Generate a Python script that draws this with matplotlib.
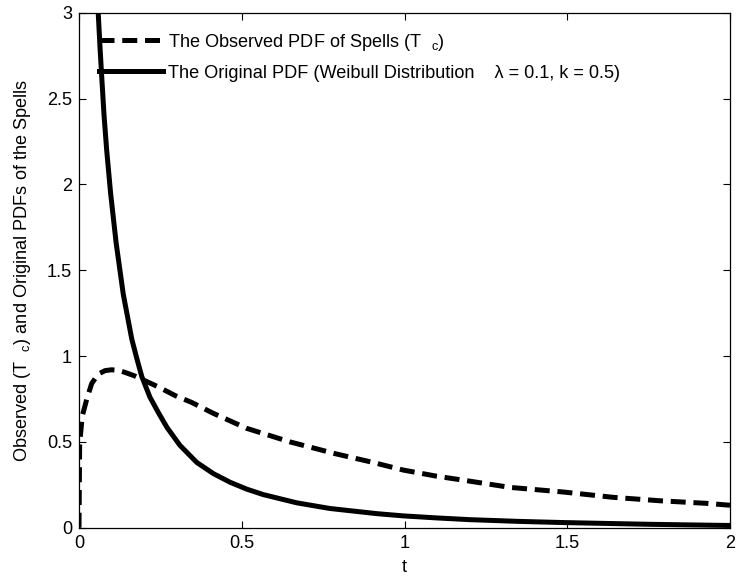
import matplotlib
matplotlib.use("Agg")
import matplotlib.pyplot as plt

plt.rcParams['font.family'] = ['Liberation Sans', 'DejaVu Sans']
plt.rcParams['mathtext.fontset'] = 'custom'
plt.rcParams['mathtext.rm'] = 'Liberation Sans'
plt.rcParams['font.size'] = 13.1

# observed PDF of the spells (dashed)
t_obs = [0.0, 0.002, 0.010, 0.024, 0.039, 0.059, 0.08, 0.10, 0.12, 0.141, 0.17,
         0.198, 0.244, 0.295, 0.346, 0.413, 0.515, 0.648, 0.79, 0.904, 0.996,
         1.099, 1.191, 1.324, 1.488, 1.641, 1.785, 1.928, 2.0]
pdf_obs = [0.0, 0.49, 0.65, 0.75, 0.84, 0.895, 0.915, 0.92, 0.917, 0.905, 0.885,
           0.86, 0.82, 0.77, 0.73, 0.666, 0.579, 0.50, 0.43, 0.38, 0.336,
           0.30, 0.274, 0.235, 0.208, 0.177, 0.157, 0.142, 0.131]

# original Weibull PDF (solid)
t_orig = [0.052, 0.059, 0.0645, 0.070, 0.077, 0.085, 0.097, 0.114, 0.136, 0.162,
          0.177, 0.193, 0.218, 0.244, 0.27, 0.31, 0.362, 0.413, 0.464, 0.515,
          0.566, 0.669, 0.771, 0.915, 0.996, 1.1, 1.2, 1.35, 1.49, 1.75, 2.0]
pdf_orig = [3.25, 3.0, 2.80, 2.62, 2.40, 2.20, 1.95, 1.66, 1.36, 1.10,
            0.99, 0.88, 0.76, 0.67, 0.585, 0.48, 0.38, 0.315, 0.265, 0.225,
            0.193, 0.145, 0.112, 0.082, 0.069, 0.057, 0.047, 0.037, 0.030, 0.020, 0.013]

label_obs = r'The Observed PDF of Spells (T  $\mathregular{_c}$)'
label_orig = 'The Original PDF (Weibull Distribution    \u03bb = 0.1, k = 0.5)'

fig = plt.figure(figsize=(7.37, 5.77), dpi=100)
ax = fig.add_axes([0.1072, 0.0854, 0.8833, 0.8926])

ax.plot(t_obs, pdf_obs, '--k', lw=3.6, dashes=(3.0, 1.55),
        dash_capstyle='butt', label=label_obs)
ax.plot(t_orig, pdf_orig, '-k', lw=3.6, label=label_orig)

ax.set_xlim(0, 2)
ax.set_ylim(0, 3)
ax.set_xticks([0, 0.5, 1, 1.5, 2])
ax.set_xticklabels(['0', '0.5', '1', '1.5', '2'])
ax.set_yticks([0, 0.5, 1, 1.5, 2, 2.5, 3])
ax.set_yticklabels(['0', '0.5', '1', '1.5', '2', '2.5', '3'])
ax.tick_params(direction='in', length=5, width=0.8, top=True, right=True, pad=5)
for s in ax.spines.values():
    s.set_linewidth(0.9)

ax.set_xlabel('t', labelpad=5)
ax.set_ylabel(r'Observed (T  $\mathregular{_c}$) and Original PDFs of the Spells', labelpad=10)

ax.legend(loc='upper left', bbox_to_anchor=(0.02, 0.977), frameon=False,
          handlelength=3.5, handletextpad=0.3, labelspacing=0.66, borderaxespad=0)

fig.savefig('out.png', dpi=100)
